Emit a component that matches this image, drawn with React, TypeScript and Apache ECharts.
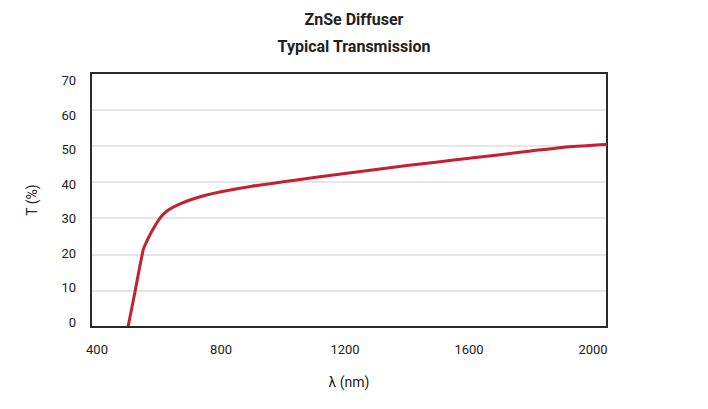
import React, { useEffect, useRef } from "react";
import * as echarts from "echarts";

// Wavelength (nm) and transmission (%) of the ZnSe diffuser curve
const wavelength = [500, 520, 549, 560, 570, 581, 592, 603, 618, 635, 668, 700, 750, 800, 900, 1000, 1100, 1200, 1300, 1400, 1500, 1600, 1700, 1800, 1900, 2000, 2045];
const transmission = [0, 8.6, 21.3, 23.5, 25.3, 27.0, 28.6, 30.0, 31.4, 32.5, 33.9, 35.0, 36.3, 37.3, 38.8, 40.0, 41.2, 42.3, 43.4, 44.5, 45.5, 46.5, 47.5, 48.5, 49.5, 50.1, 50.3];

const xTickLabels = [400, 800, 1200, 1600, 2000];
const yTickLabels = [0, 10, 20, 30, 40, 50, 60, 70];

const FONT = '"Roboto", "Liberation Sans", sans-serif';
const FRAME = { show: true, onZero: false, lineStyle: { color: "#2a2a2a", width: 2 } };

export default function App() {
  const ref = useRef<HTMLDivElement>(null);

  useEffect(() => {
    if (!ref.current) return;
    const chart = echarts.init(ref.current, null, { renderer: "svg" });
    const points = wavelength.map((w, i) => [w, transmission[i]]);

    chart.setOption({
      animation: false,
      backgroundColor: "#ffffff",
      title: {
        text: "ZnSe Diffuser\nTypical Transmission",
        left: "center",
        top: 1,
        textStyle: {
          fontFamily: FONT,
          fontSize: 16,
          fontWeight: "bold",
          color: "#222",
          lineHeight: 27,
        },
      },
      grid: {
        left: 91,
        top: 73,
        right: 101,
        bottom: 82,
        show: false,
      },
      xAxis: [
        {
          type: "value",
          position: "bottom",
          min: 380.6,
          max: 2045,
          name: "λ (nm)",
          nameLocation: "middle",
          nameGap: 48,
          nameTextStyle: { fontFamily: FONT, fontSize: 14, color: "#222" },
          axisLine: FRAME,
          axisTick: { show: false },
          splitLine: { show: false },
          axisLabel: {
            customValues: xTickLabels,
            formatter: (v: number) => String(v),
            margin: 16,
            fontFamily: FONT,
            fontSize: 13,
            color: "#222",
          },
          z: 5,
        },
        {
          type: "value",
          position: "top",
          min: 380.6,
          max: 2045,
          axisLine: FRAME,
          axisTick: { show: false },
          axisLabel: { show: false },
          splitLine: { show: false },
          z: 5,
        },
      ],
      yAxis: [
        {
          type: "value",
          position: "right",
          min: 0,
          max: 70,
          interval: 10,
          axisLine: FRAME,
          axisTick: { show: false },
          axisLabel: { show: false },
          splitLine: { show: true, lineStyle: { color: "#e6e6e6", width: 2 } },
          z: 1,
        },
        {
          type: "value",
          position: "left",
          min: -1.45,
          max: 72.3,
          name: "T (%)",
          nameLocation: "middle",
          nameGap: 52,
          nameTextStyle: { fontFamily: FONT, fontSize: 14, color: "#222" },
          axisLine: FRAME,
          axisTick: { show: false },
          splitLine: { show: false },
          axisLabel: {
            customValues: yTickLabels,
            margin: 15,
            fontFamily: FONT,
            fontSize: 13,
            color: "#222",
          },
          z: 5,
        },
      ],
      series: [
        {
          type: "line",
          data: points,
          xAxisIndex: 0,
          yAxisIndex: 0,
          smooth: 0.2,
          showSymbol: false,
          lineStyle: { color: "#c71f2d", width: 3 },
          z: 3,
        },
      ],
    });

    return () => chart.dispose();
  }, []);

  return (
    <div
      ref={ref}
      style={{ position: "fixed", left: 0, top: 0, width: 708, height: 409 }}
    />
  );
}
